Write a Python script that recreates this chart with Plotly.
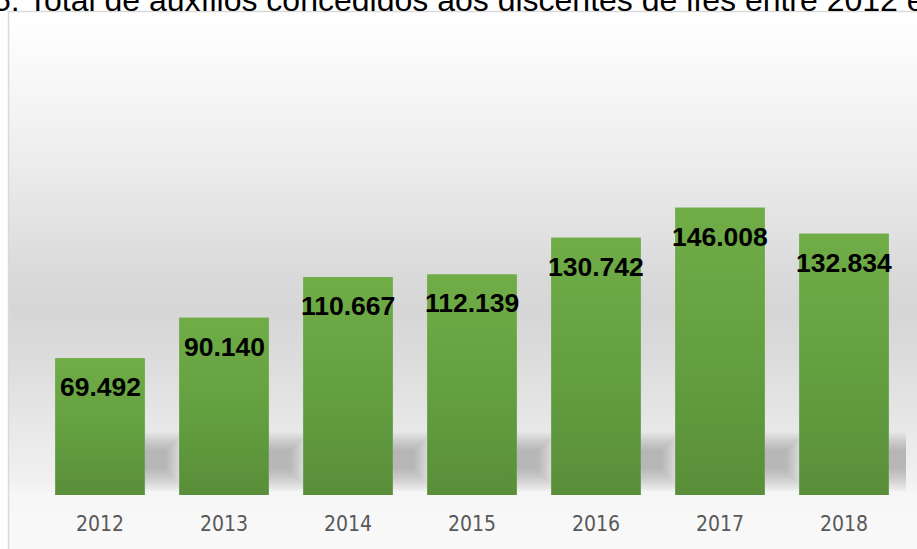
import plotly.graph_objects as go

# ---- data ----
years = ["2012", "2013", "2014", "2015", "2016", "2017", "2018"]
values = [69492, 90140, 110667, 112139, 130742, 146008, 132834]
title_text = "5. Total de auxílios concedidos aos discentes de ifes entre 2012 e 2018"

W, H = 917, 549
ML, MR, MT, MB = 38, 11, 40, 54
PW, PH = W - ML - MR, H - MT - MB
YMAX = 231300
BAR_W = 0.72
PX_PER_CAT = PW / 7.0


def fmt(v):
    return f"{v:,}".replace(",", ".")


def px_x(px):
    return (px - ML) / PW


def px_y(py):
    return (H - MB - py) / PH


def py_data(py):
    return (H - MB - py) / PH * YMAX


fig = go.Figure()

# base bars (data)
xs = list(range(len(years)))
fig.add_trace(go.Bar(
    x=xs, y=values, width=BAR_W,
    marker=dict(color="#65a041", line=dict(width=0)),
    hovertemplate="%{customdata}: %{y:,}<extra></extra>",
    customdata=years, showlegend=False,
))

# gradient overlay for each bar (same data)
for i, v in enumerate(values):
    x0, x1 = i - BAR_W / 2, i + BAR_W / 2
    fig.add_trace(go.Scatter(
        x=[x0, x1, x1, x0, x0], y=[0, 0, v, v, 0],
        mode="lines", fill="toself", line=dict(width=0, color="rgba(0,0,0,0)"),
        fillgradient=dict(type="vertical",
                          colorscale=[[0, "#5a8e3a"], [0.5, "#64a040"], [1, "#70ad47"]]),
        hoverinfo="skip", showlegend=False,
    ))

shapes = []

# background gradient (decorative) inside the frame
stops = [(11, 255), (60, 250), (160, 237), (260, 220), (310, 214), (360, 220),
         (427, 232), (480, 241), (497, 247), (549, 249)]


def gray_at(py):
    for (a, ga), (b, gb) in zip(stops[:-1], stops[1:]):
        if a <= py <= b:
            t = (py - a) / (b - a)
            return round(ga + (gb - ga) * t)
    return stops[-1][1]


step = 4
py = 11
while py < H:
    g = gray_at(py + step / 2)
    shapes.append(dict(type="rect", xref="paper", yref="paper",
                       x0=px_x(8.5), x1=px_x(W + 20),
                       y0=px_y(min(py + step + 0.6, H + 10)), y1=px_y(py),
                       fillcolor=f"rgb({g},{g},{g})", line=dict(width=0),
                       layer="below"))
    py += step

# frame border
shapes.append(dict(type="rect", xref="paper", yref="paper",
                   x0=px_x(8.5), x1=px_x(W + 20), y0=px_y(H + 20), y1=px_y(11.5),
                   fillcolor="rgba(0,0,0,0)", line=dict(color="#d9d9d9", width=1.5),
                   layer="below"))

# soft shadows to the right of each bar (nested translucent layers = blur)
for i, v in enumerate(values):
    r = i + BAR_W / 2
    core_w, core_top, core_bot = 22, 450, 470
    n = 9
    for k in range(n):
        grow = (n - 1 - k) * 2.2
        w = core_w + grow
        top = core_top - grow
        bot = min(core_bot + grow * 1.2, 494)
        shapes.append(dict(type="rect", xref="x", yref="y",
                           x0=r, x1=r + w / PX_PER_CAT,
                           y0=py_data(bot), y1=py_data(top),
                           fillcolor="rgba(110,110,110,0.055)", line=dict(width=0),
                           layer="below"))

annotations = []
for i, v in enumerate(values):
    annotations.append(dict(
        x=i, y=v, xref="x", yref="y", text=f"<b>{fmt(v)}</b>",
        showarrow=False, yanchor="middle", xanchor="center", yshift=-29,
        font=dict(family="Liberation Sans, Arial, sans-serif", size=26.5, color="#000000"),
    ))

annotations.append(dict(
    x=px_x(-9), y=px_y(20), xref="paper", yref="paper", text=title_text,
    showarrow=False, xanchor="left", yanchor="bottom",
    font=dict(family="Liberation Sans, Arial, sans-serif", size=32, color="#000000"),
))

fig.update_layout(
    width=W, height=H,
    margin=dict(l=ML, r=MR, t=MT, b=MB, pad=0),
    paper_bgcolor="#ffffff", plot_bgcolor="rgba(0,0,0,0)",
    bargap=0.28, showlegend=False,
    shapes=shapes, annotations=annotations,
    xaxis=dict(range=[-0.5, len(years) - 0.5], tickvals=xs, ticktext=years,
               showgrid=False, zeroline=False, showline=False, ticks="",
               ticklabelstandoff=14,
               tickfont=dict(family="Liberation Sans Narrow, DejaVu Sans Condensed, Arial Narrow, sans-serif",
                             size=21, color="#595959")),
    yaxis=dict(range=[0, YMAX], visible=False, fixedrange=True),
)

fig.write_html("out.html")
